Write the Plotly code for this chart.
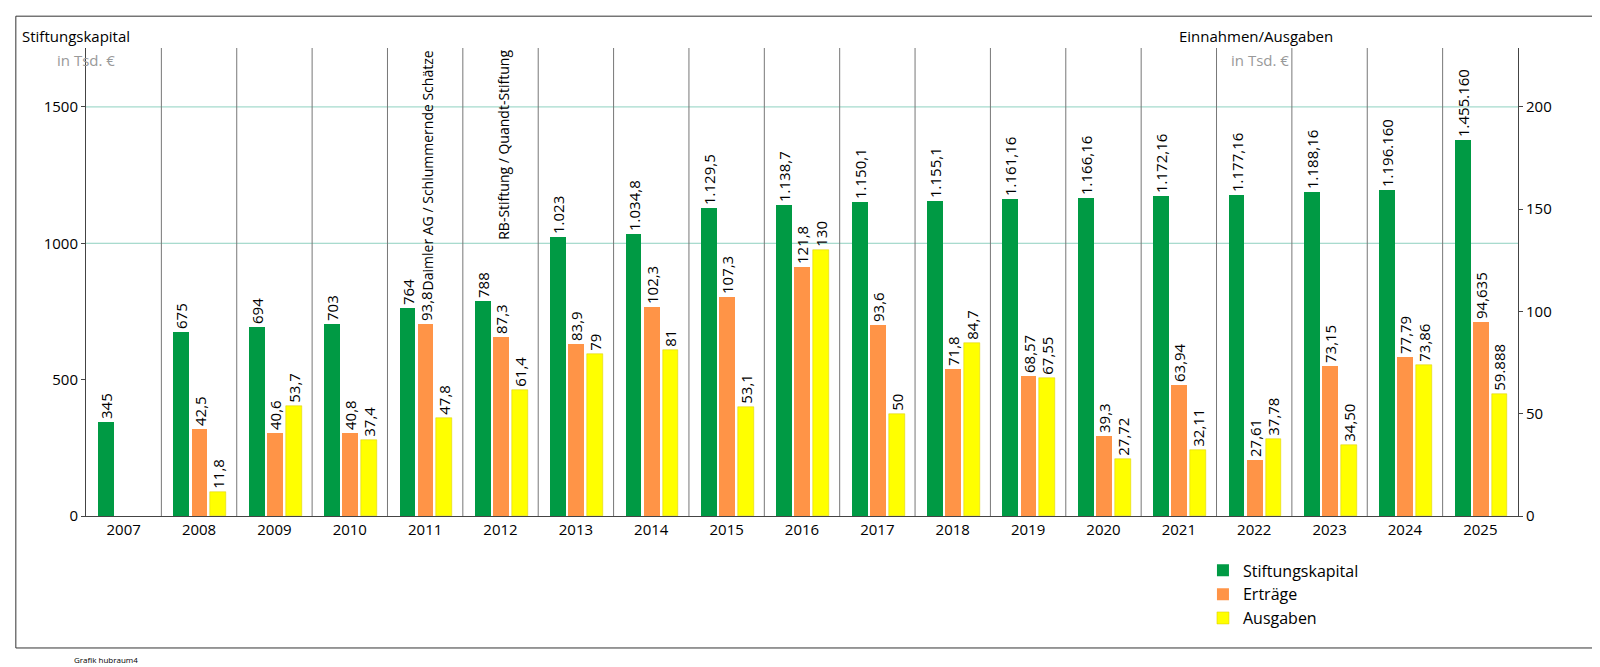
import plotly.graph_objects as go

years = list(range(2007, 2026))
kapital = [345, 675, 694, 703, 764, 788, 1023, 1034.8, 1129.5, 1138.7, 1150.1, 1155.1, 1161.16, 1166.16, 1172.16, 1177.16, 1188.16, 1196.16, 1380]
kapital_txt = ["345", "675", "694", "703", "764", "788", "1.023", "1.034,8", "1.129,5", "1.138,7", "1.150,1", "1.155,1",
               "1.161,16", "1.166,16", "1.172,16", "1.177,16", "1.188,16", "1.196.160", "1.455.160"]
ertraege = [None, 42.5, 40.6, 40.8, 93.8, 87.3, 83.9, 102.3, 107.3, 121.8, 93.6, 71.8, 68.57, 39.3, 63.94, 27.61, 73.15, 77.79, 94.635]
ertraege_txt = ["", "42,5", "40,6", "40,8", "93,8", "87,3", "83,9", "102,3", "107,3", "121,8", "93,6", "71,8", "68,57", "39,3", "63,94", "27,61", "73,15", "77,79", "94,635"]
ausgaben = [None, 11.8, 53.7, 37.4, 47.8, 61.4, 79, 81, 53.1, 130, 50, 84.7, 67.55, 27.72, 32.11, 37.78, 34.50, 73.86, 59.888]
ausgaben_txt = ["", "11,8", "53,7", "37,4", "47,8", "61,4", "79", "81", "53,1", "130", "50", "84,7", "67,55", "27,72", "32,11", "37,78", "34,50", "73,86", "59.888"]
notes = {2011: "Daimler AG / Schlummernde Schätze", 2012: "RB-Stiftung / Quandt-Stiftung"}

font = "Open Sans"
fig = go.Figure()
common = dict(textposition="outside", textangle=-90, cliponaxis=False, width=0.21, constraintext="none",
              textfont=dict(size=15, color="black", family=font))
fig.add_bar(x=years, y=kapital, text=kapital_txt, name="Stiftungskapital", marker_color="#009a44",
            marker_line_width=0, offset=-0.34, yaxis="y", **common)
fig.add_bar(x=years, y=ertraege, text=ertraege_txt, name="Erträge", marker_color="#ff9447",
            marker_line_width=0, offset=-0.1, yaxis="y2", **common)
fig.add_bar(x=years, y=ausgaben, text=ausgaben_txt, name="Ausgaben", marker_color="#ffff00",
            marker_line=dict(color="#d8c800", width=0.5), offset=0.15, yaxis="y2", **common)

shapes = []
for y in years[:-1]:
    shapes.append(dict(type="line", xref="x", yref="paper", x0=y + 0.5, x1=y + 0.5, y0=0, y1=1,
                       line=dict(color="#777", width=1)))
shapes.append(dict(type="rect", xref="paper", yref="paper", x0=-0.049, x1=1.056, y0=-0.282, y1=1.068,
                   line=dict(color="#333", width=1)))
for v in [1000, 1500]:
    shapes.append(dict(type="line", xref="paper", yref="y", x0=0, x1=1, y0=v, y1=v,
                       line=dict(color="#8fd1c0", width=1), layer="below"))

ann = []
for y, t in notes.items():
    ann.append(dict(x=y + 0.03, y=1.0, xref="x", yref="paper", text=t, textangle=-90,
                    showarrow=False, yanchor="top", font=dict(size=14, family=font, color="black")))
ann += [
    dict(x=-0.046, y=1.0, xref="paper", yref="paper", text="Stiftungskapital", showarrow=False,
         xanchor="left", yanchor="bottom", font=dict(size=15, family=font, color="black")),
    dict(x=0.0, y=0.975, xref="paper", yref="paper", text="in Tsd. €", showarrow=False,
         xanchor="center", yanchor="middle", font=dict(size=15, family=font, color="#999")),
    dict(x=0.762, y=1.0, xref="paper", yref="paper", text="Einnahmen/Ausgaben", showarrow=False,
         xanchor="left", yanchor="bottom", font=dict(size=15, family=font, color="black")),
    dict(x=0.82, y=0.975, xref="paper", yref="paper", text="in Tsd. €", showarrow=False,
         xanchor="center", yanchor="middle", font=dict(size=15, family=font, color="#999")),
    dict(x=-0.01, y=-0.29, xref="paper", yref="paper", text="Grafik hubraum4", showarrow=False,
         xanchor="left", yanchor="top", font=dict(size=8, family=font, color="black")),
]

fig.update_layout(
    width=1600, height=667, paper_bgcolor="white", plot_bgcolor="white",
    margin=dict(l=78, r=90, t=40, b=159), barmode="overlay", bargap=0,
    font=dict(family=font, size=15, color="black"),
    xaxis=dict(tickvals=years, ticktext=[str(y) for y in years], range=[2006.5, 2025.5],
               showgrid=False, showline=True, linecolor="#444", ticks="", zeroline=False),
    yaxis=dict(range=[0, 1716], tickvals=[0, 500, 1000, 1500], showgrid=False, zeroline=False,
               showline=True, linecolor="#444", ticks="outside", ticklen=4),
    yaxis2=dict(range=[0, 228.8], tickvals=[0, 50, 100, 150, 200], overlaying="y", side="right",
                showgrid=False, zeroline=False, showline=True, linecolor="#444", ticks="outside", ticklen=4),
    legend=dict(x=0.78, y=-0.08, xanchor="left", yanchor="top", font=dict(size=16, family=font),
                bgcolor="rgba(0,0,0,0)", itemwidth=30),
    shapes=shapes, annotations=ann,
)
fig.write_html("out.html")
